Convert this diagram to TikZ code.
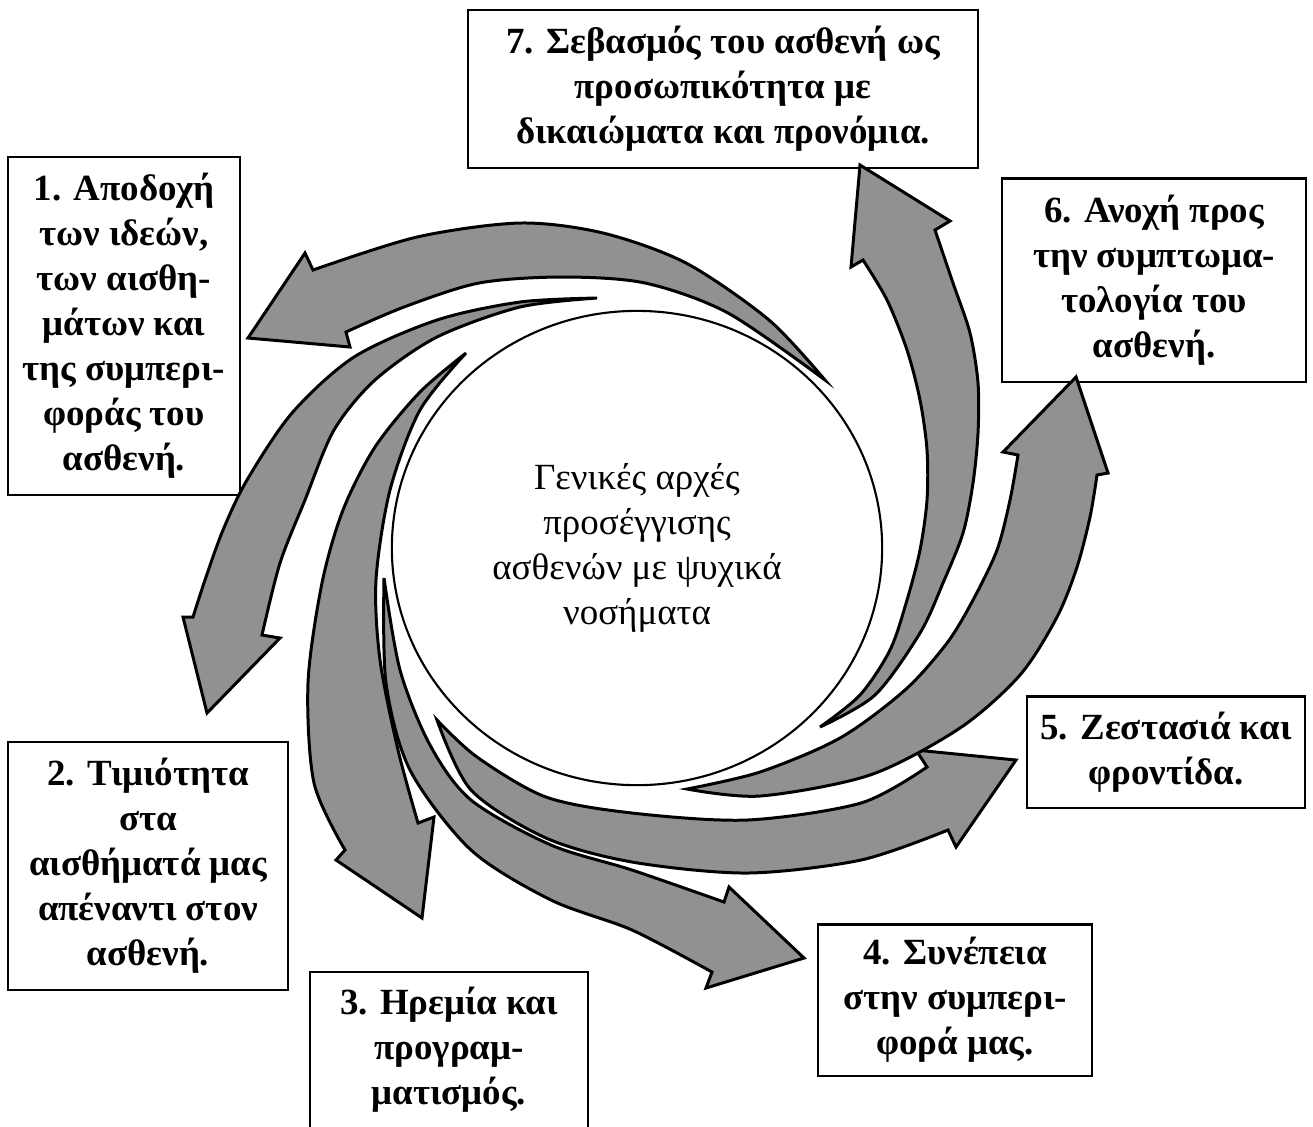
\documentclass[tikz,border=0pt]{standalone}
\usepackage{fontspec}
\setmainfont{Liberation Serif}
\usetikzlibrary{shapes.geometric}
\definecolor{swirlgray}{RGB}{145,145,145}

\begin{document}
\begin{tikzpicture}[
  x=0.01cm, y=-0.01cm,
  box/.style={draw, line width=0.6pt, align=center, inner sep=0pt, font=\bfseries\fontsize{10.5}{12.8}\selectfont},
  swirl/.style={draw, fill=swirlgray, line width=0.85pt}
]
  \useasboundingbox (0,0) rectangle (1313,1126);

  % boxes round the circle
  \node[box, minimum width=2.32cm, minimum height=3.38cm] (acceptance) at (124,326) {1. Αποδοχή\\των ιδεών,\\των αισθη-\\μάτων και\\της συμπερι-\\φοράς του\\ασθενή.};
  \node[box, minimum width=2.80cm, minimum height=2.48cm] (honesty) at (148,866) {2. Τιμιότητα\\στα\\αισθήματά μας\\απέναντι στον\\ασθενή.};
  \node[box, minimum width=2.78cm, minimum height=1.56cm] (calm) at (449,1050) {3. Ηρεμία και\\προγραμ-\\ματισμός.};
  \node[box, minimum width=2.74cm, minimum height=1.51cm] (consistency) at (955,1000) {4. Συνέπεια\\στην συμπερι-\\φορά μας.};
  \node[box, minimum width=2.78cm, minimum height=1.11cm] (warmth) at (1166,752) {5. Ζεστασιά και\\φροντίδα.};
  \node[box, minimum width=3.03cm, minimum height=2.03cm] (tolerance) at (1154,280) {6. Ανοχή προς\\την συμπτωμα-\\τολογία του\\ασθενή.};
  \node[box, minimum width=5.10cm, minimum height=1.58cm] (respect) at (723,89) {7. Σεβασμός του ασθενή ως\\προσωπικότητα με\\δικαιώματα και προνόμια.};

  % centre
  \node[draw, ellipse, line width=0.6pt, minimum width=4.9cm, minimum height=4.74cm, align=center, font=\fontsize{10.5}{12.8}\selectfont] (hub) at (637,548) {Γενικές αρχές\\προσέγγισης\\ασθενών με ψυχικά\\νοσήματα};

  % arrow to 1
  \filldraw[swirl] plot[smooth] coordinates {(825,380) (769,320) (686,263) (603,233) (520,223) (417,237) (313,270)}
    -- (305,253) -- (248,338) -- (350,347)
    -- plot[smooth] coordinates {(346,332) (404,307) (479,283) (562,277) (645,283) (728,313) (825,380)} -- cycle;
  % arrow to 2
  \filldraw[swirl] plot[smooth] coordinates {(597,298) (520,302) (437,320) (354,357) (292,413) (247,480) (223,530) (205,580) (193,617)}
    -- (183,617) -- (207,713) -- (280,638)
    -- plot[smooth] coordinates {(262,635) (280,563) (305,500) (334,430) (375,380) (437,337) (520,307) (597,298)} -- cycle;
  % arrow to 3
  \filldraw[swirl] plot[smooth] coordinates {(466,353) (420,392) (375,447) (343,510) (322,583) (308,683) (314,783) (345,850)}
    -- (336,860) -- (422,918) -- (434,817)
    -- plot[smooth] coordinates {(418,823) (398,750) (380,660) (376,580) (390,490) (420,410) (466,353)} -- cycle;
  % arrow to 4
  \filldraw[swirl] plot[smooth] coordinates {(384,578) (386,683) (410,770) (471,850) (551,900) (632,930) (712,972)}
    -- (706,988) -- (804,958) -- (729,887)
    -- plot[smooth] coordinates {(724,902) (632,870) (551,845) (471,800) (430,745) (400,670) (384,578)} -- cycle;
  % arrow to 5
  \filldraw[swirl] plot[smooth] coordinates {(437,720) (471,790) (546,838) (632,862) (747,873) (861,860) (948,830)}
    -- (956,847) -- (1016,760) -- (916,750)
    -- plot[smooth] coordinates {(927,767) (861,803) (747,820) (632,813) (546,797) (477,757) (437,720)} -- cycle;
  % arrow to 6
  \filldraw[swirl] plot[smooth] coordinates {(687,789) (760,796) (870,775) (960,728) (1020,675) (1057,617) (1077,567) (1090,517) (1097,475)}
    -- (1108,473) -- (1076,377) -- (1003,452)
    -- plot[smooth] coordinates {(1018,455) (1010,500) (997,550) (973,600) (947,643) (905,690) (840,738) (760,772) (687,789)} -- cycle;
  % arrow to 7
  \filldraw[swirl] plot[smooth] coordinates {(820,727) (875,695) (920,633) (943,583) (963,533) (973,483) (978,433) (978,383) (970,333) (953,283) (935,230)}
    -- (950,221) -- (860,165) -- (851,267)
    -- plot[smooth] coordinates {(863,260) (887,300) (907,350) (920,400) (927,450) (927,500) (920,550) (907,600) (890,650) (860,695) (820,727)} -- cycle;
\end{tikzpicture}
\end{document}
